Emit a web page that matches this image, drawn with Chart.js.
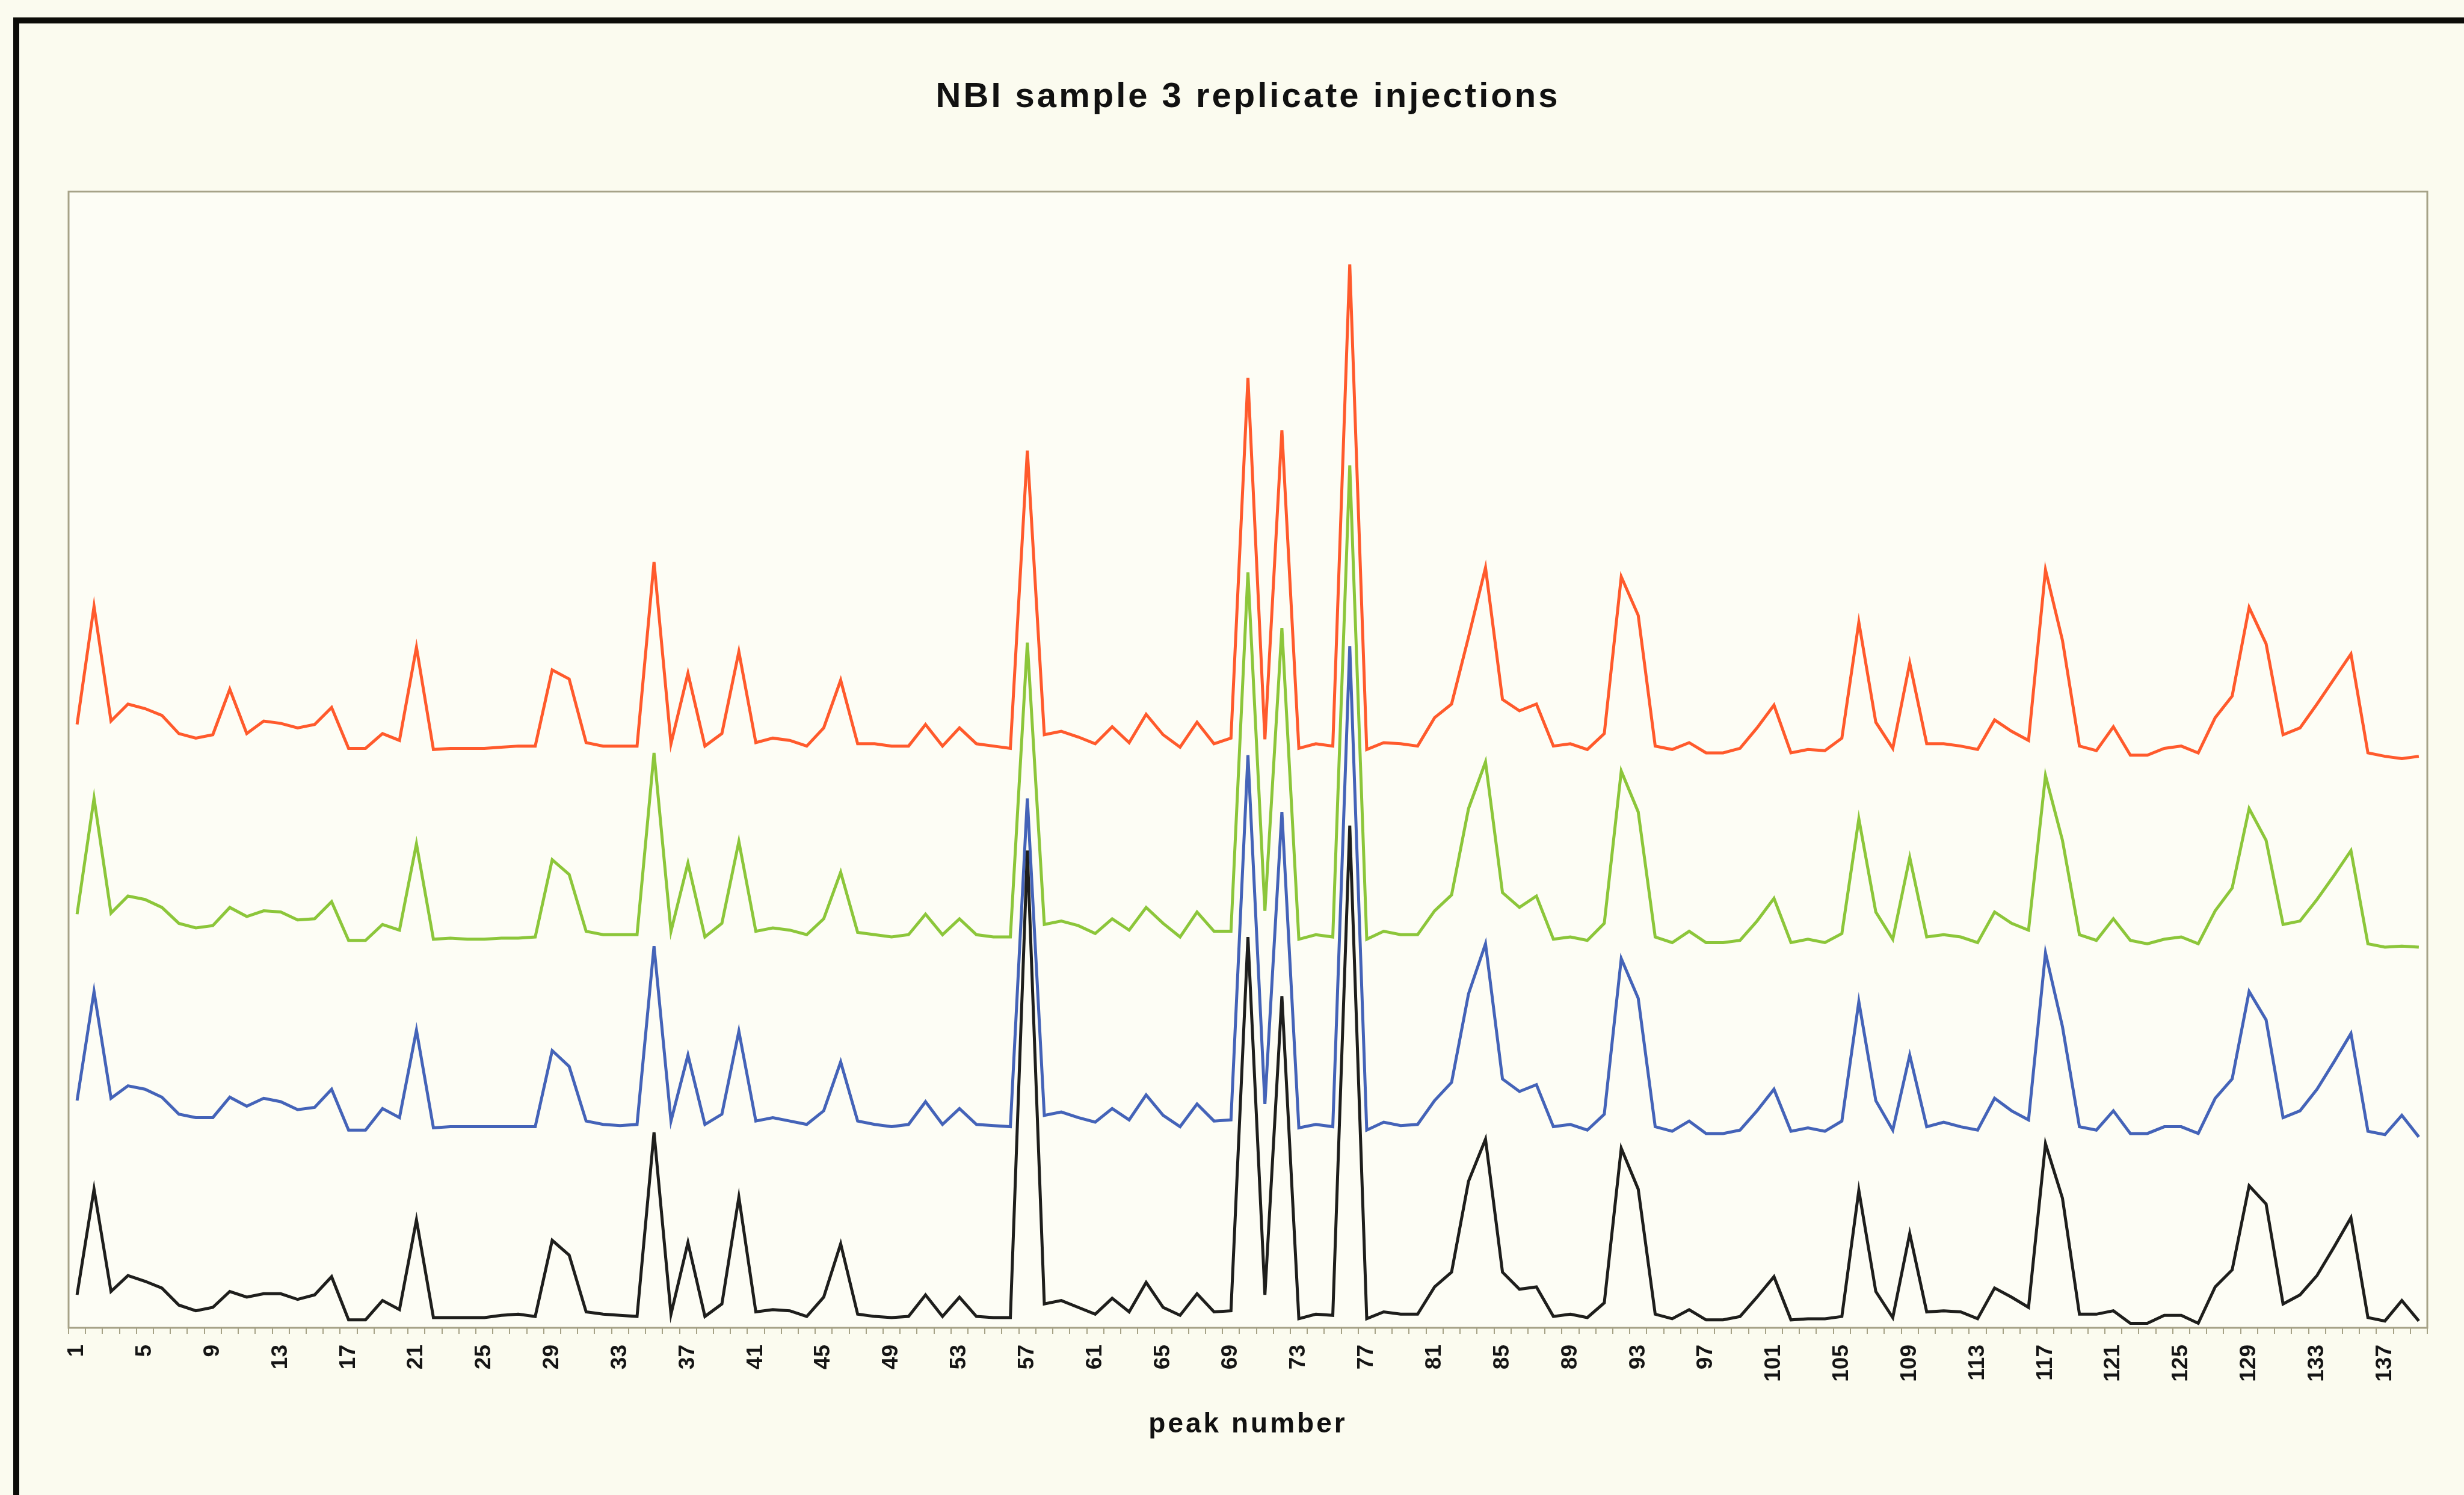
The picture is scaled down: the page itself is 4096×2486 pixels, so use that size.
<!DOCTYPE html>
<html>
<head>
<meta charset="utf-8">
<script src="https://cdn.jsdelivr.net/npm/chart.js@4.4.1/dist/chart.umd.min.js"></script>
<style>
  html, body { margin: 0; padding: 0; background: #fbfbef; }
  canvas { display: block; }
</style>
</head>
<body>
<canvas id="chart" width="4096" height="2486"></canvas>
<script>
// Peak numbers along the x axis
const peakNumbers = [
  '1','2','3','4','5','6','7','8','9','10','11','12','13','14','15','16','17','18','19','20',
  '21','22','23','24','25','26','27','28','29','30','31','32','33','34','35','36','37','38','39','40',
  '41','42','43','44','45','46','47','48','49','50','51','52','53','54','55','56','57','58','59','60',
  '61','62','63','64','65','66','67','68','69','70','71','72','73','74','75','76','77','78','79','80',
  '81','82','83','84','85','86','87','88','89','90','91','92','93','94','95','96','97','98','99','100',
  '101','102','103','104','105','106','107','108','109','110','111','112','113','114','115','116','117','118','119','120',
  '121','122','123','124','125','126','127','128','129','130','131','132','133','134','135','136','137','138','139'
];

// Peak numbers that carry a printed label
const tickLabels = ['1','5','9','13','17','21','25','29','33','37','41','45','49','53','57','61','65','69',
  '73','77','81','85','89','93','97','101','105','109','113','117','121','125','129','133','137'];

// Replicate injections, each trace drawn with its own vertical offset
const injectionA = [ // black trace
  2.9,12.2,3.2,4.6,4.1,3.5,2.0,1.5,1.8,3.2,2.7,3.0,3.0,2.5,2.9,4.5,0.7,0.7,2.4,1.6,
  9.5,0.9,0.9,0.9,0.9,1.1,1.2,1.0,7.7,6.4,1.4,1.2,1.1,1.0,17.2,1.2,7.5,1.0,2.1,11.5,
  1.4,1.6,1.5,1.0,2.7,7.4,1.2,1.0,0.9,1.0,2.9,1.0,2.7,1.0,0.9,0.9,42.0,2.1,2.4,1.8,
  1.2,2.6,1.4,4.0,1.8,1.1,3.0,1.4,1.5,34.4,2.9,29.2,0.8,1.2,1.1,44.2,0.8,1.4,1.2,1.2,
  3.6,4.9,12.9,16.6,4.9,3.4,3.6,1.0,1.2,0.9,2.2,15.8,12.2,1.2,0.8,1.6,0.7,0.7,1.0,2.7,
  4.5,0.7,0.8,0.8,1.0,12.1,3.2,0.9,8.3,1.4,1.5,1.4,0.8,3.5,2.7,1.8,16.2,11.4,1.2,1.2,
  1.5,0.4,0.4,1.1,1.1,0.4,3.6,5.1,12.5,10.9,2.1,2.9,4.6,7.1,9.7,0.9,0.6,2.4,0.6
];
const injectionB = [ // blue trace
  20.0,29.6,20.2,21.3,21.0,20.3,18.8,18.5,18.5,20.3,19.5,20.2,19.9,19.2,19.4,21.0,17.4,17.4,19.3,18.5,
  26.2,17.6,17.7,17.7,17.7,17.7,17.7,17.7,24.4,23.0,18.2,17.9,17.8,17.9,33.6,18.2,24.0,17.9,18.8,26.1,
  18.2,18.5,18.2,17.9,19.1,23.4,18.2,17.9,17.7,17.9,19.9,17.9,19.3,17.9,17.8,17.7,46.6,18.7,19.0,18.5,
  18.1,19.3,18.3,20.5,18.7,17.7,19.7,18.2,18.3,50.4,19.7,45.4,17.6,17.9,17.7,60.0,17.4,18.1,17.8,17.9,
  20.0,21.6,29.4,33.8,21.9,20.8,21.4,17.7,17.9,17.4,18.8,32.5,29.0,17.7,17.3,18.2,17.1,17.1,17.4,19.1,
  21.0,17.3,17.6,17.3,18.2,28.7,20.0,17.4,24.0,17.7,18.1,17.7,17.4,20.2,19.1,18.3,33.0,26.5,17.7,17.4,
  19.1,17.1,17.1,17.7,17.7,17.1,20.2,21.9,29.6,27.1,18.5,19.1,21.0,23.4,25.9,17.3,17.0,18.7,16.8
];
const injectionC = [ // green trace
  36.4,46.6,36.5,38.0,37.7,37.0,35.6,35.2,35.4,37.0,36.2,36.7,36.6,35.9,36.0,37.5,34.1,34.1,35.5,35.0,
  42.6,34.2,34.3,34.2,34.2,34.3,34.3,34.4,41.2,39.9,34.9,34.6,34.6,34.6,50.6,34.9,40.9,34.4,35.6,42.8,
  34.9,35.2,35.0,34.6,36.0,40.1,34.8,34.6,34.4,34.6,36.4,34.6,36.0,34.6,34.4,34.4,60.3,35.5,35.8,35.4,
  34.7,36.0,35.0,37.0,35.6,34.4,36.6,34.9,34.9,66.5,36.7,61.6,34.2,34.6,34.4,75.9,34.2,34.9,34.6,34.6,
  36.7,38.1,45.7,49.8,38.3,37.0,38.0,34.2,34.4,34.1,35.6,49.0,45.4,34.4,33.9,34.9,33.9,33.9,34.1,35.8,
  37.8,33.9,34.2,33.9,34.7,44.8,36.6,34.2,41.4,34.4,34.6,34.4,33.9,36.6,35.6,35.0,48.6,42.9,34.6,34.1,
  36.0,34.1,33.8,34.2,34.4,33.8,36.7,38.7,45.7,42.9,35.5,35.8,37.7,39.8,42.0,33.8,33.5,33.6,33.5
];
const injectionD = [ // red trace
  53.1,63.5,53.4,54.9,54.5,53.9,52.3,51.9,52.2,56.2,52.3,53.4,53.2,52.8,53.1,54.6,51.0,51.0,52.3,51.7,
  59.9,50.9,51.0,51.0,51.0,51.1,51.2,51.2,57.9,57.1,51.5,51.2,51.2,51.2,67.4,51.4,57.6,51.2,52.3,59.5,
  51.5,51.9,51.7,51.2,52.8,57.0,51.4,51.4,51.2,51.2,53.1,51.2,52.8,51.4,51.2,51.0,77.2,52.2,52.5,52.0,
  51.4,52.9,51.5,54.0,52.2,51.1,53.3,51.4,51.9,83.6,51.8,79.0,51.0,51.4,51.2,93.6,50.9,51.5,51.4,51.2,
  53.7,54.9,60.8,66.9,55.3,54.3,54.9,51.2,51.4,50.9,52.3,66.1,62.7,51.2,50.9,51.5,50.6,50.6,51.0,52.8,
  54.8,50.6,50.9,50.8,51.9,62.1,53.3,51.0,58.5,51.4,51.4,51.2,50.9,53.5,52.5,51.7,66.7,60.5,51.2,50.8,
  52.9,50.4,50.4,51.0,51.2,50.6,53.7,55.6,63.4,60.2,52.2,52.8,54.9,57.1,59.3,50.6,50.3,50.1,50.3
];

const PAPER = '#fbfbef';
const PLOT_BG = '#fdfdf5';
const FRAME = '#a6a287';

// Page background, the heavy outer frame and the plot box
const paperPlugin = {
  id: 'paper',
  beforeDraw(chart) {
    const ctx = chart.ctx;
    const a = chart.chartArea;
    ctx.save();
    ctx.fillStyle = PAPER;
    ctx.fillRect(0, 0, chart.width, chart.height);
    ctx.fillStyle = '#0c0c08';
    ctx.fillRect(22, 29, chart.width - 22, 10);
    ctx.fillRect(22, 29, 10, chart.height - 29);
    ctx.fillStyle = PLOT_BG;
    ctx.fillRect(a.left, a.top, a.right - a.left, a.bottom - a.top);
    ctx.restore();
    // wide spacing for the chart and axis titles
    ctx.letterSpacing = '4px';
  },
  beforeDatasetsDraw(chart) {
    const ctx = chart.ctx;
    const a = chart.chartArea;
    ctx.letterSpacing = '0px';
    ctx.save();
    ctx.strokeStyle = FRAME;
    ctx.lineWidth = 3;
    ctx.strokeRect(a.left, a.top, a.right - a.left, a.bottom - a.top);
    ctx.restore();
  }
};

const lineStyle = { borderWidth: 5, pointRadius: 0, tension: 0, fill: false, borderJoinStyle: 'miter' };

new Chart(document.getElementById('chart'), {
  type: 'line',
  data: {
    labels: peakNumbers,
    datasets: [
      { label: 'injection A', data: injectionA, borderColor: '#1e1e1c', ...lineStyle },
      { label: 'injection B', data: injectionB, borderColor: '#4463b8', ...lineStyle },
      { label: 'injection C', data: injectionC, borderColor: '#8cc63a', ...lineStyle },
      { label: 'injection D', data: injectionD, borderColor: '#ff5a2c', ...lineStyle }
    ]
  },
  options: {
    responsive: false,
    animation: false,
    devicePixelRatio: 1,
    layout: { padding: { left: 114, right: 61, top: 0, bottom: 0 } },
    plugins: {
      legend: { display: false },
      tooltip: { enabled: false },
      title: {
        display: true,
        text: 'NBI sample 3 replicate injections',
        color: '#111',
        font: { family: 'Liberation Sans, Arial, sans-serif', size: 58, weight: 'bold' },
        padding: { top: 127, bottom: 122 }
      }
    },
    scales: {
      x: {
        type: 'category',
        offset: true,
        afterFit(scale) { scale.height = 278; },
        grid: {
          display: true,
          offset: true,
          drawOnChartArea: false,
          drawTicks: true,
          tickLength: 10,
          color: FRAME,
          lineWidth: 2
        },
        border: { display: false },
        ticks: {
          autoSkip: false,
          minRotation: 90,
          maxRotation: 90,
          padding: 18,
          z: 1,
          color: '#151515',
          font: { family: 'Liberation Sans, Arial, sans-serif', size: 37, weight: 'bold' },
          callback(value, index) {
            const lab = peakNumbers[index];
            return tickLabels.includes(lab) ? lab : '';
          }
        },
        title: {
          display: true,
          text: 'peak number',
          color: '#111',
          font: { family: 'Liberation Sans, Arial, sans-serif', size: 46, weight: 'bold' },
          padding: { top: 0, bottom: 89 }
        }
      },
      y: {
        display: false,
        min: 0,
        max: 100
      }
    }
  },
  plugins: [paperPlugin]
});
</script>
</body>
</html>
